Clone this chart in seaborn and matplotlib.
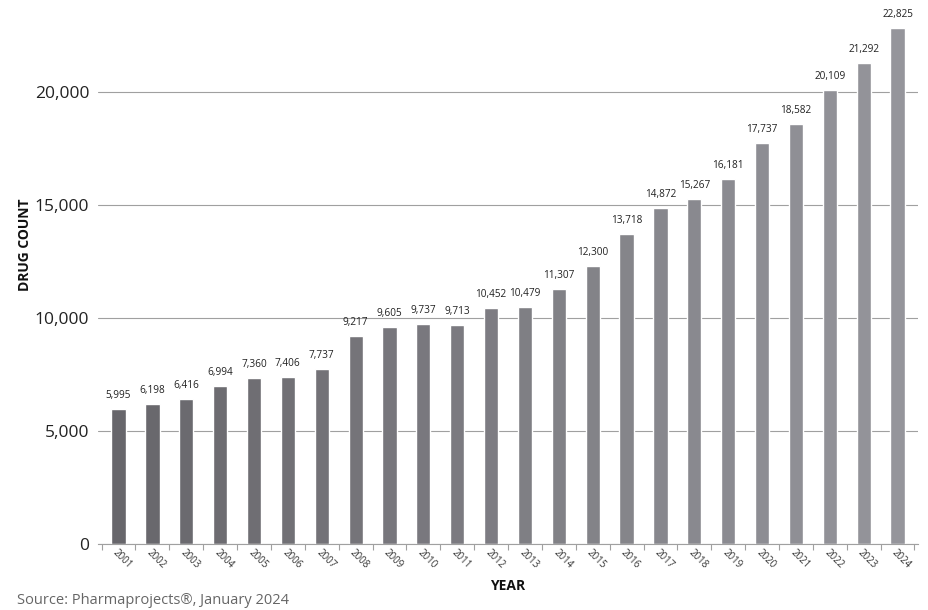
import matplotlib
matplotlib.use("Agg")
import matplotlib.pyplot as plt
import seaborn as sns
import numpy as np
import pandas as pd
from matplotlib.colors import LinearSegmentedColormap, to_hex

years = [str(y) for y in range(2001, 2025)]
counts = [5995, 6198, 6416, 6994, 7360, 7406, 7737, 9217, 9605, 9737, 9713,
          10452, 10479, 11307, 12300, 13718, 14872, 15267, 16181, 17737,
          18582, 20109, 21292, 22825]
yticks = [0, 5000, 10000, 15000, 20000]

sns.set_theme(style="white")
plt.rcParams['font.family'] = ['Open Sans', 'DejaVu Sans']

df = pd.DataFrame({"year": years, "count": counts})
cmap = LinearSegmentedColormap.from_list("g", ["#67666b", "#95959b"])
palette = [to_hex(cmap(i / (len(years) - 1))) for i in range(len(years))]

fig = plt.figure(figsize=(9.29, 6.10), dpi=100)
ax = fig.add_axes([0.105, 0.108, 0.883, 0.889])
ax.set_axisbelow(True)
sns.barplot(data=df, x="year", y="count", hue="year", palette=palette,
            legend=False, width=0.42, ax=ax, saturation=1)

ax.set_xlim(-0.62, 23.6)
ax.set_ylim(0, 24000)
ax.set_yticks(yticks)
ax.set_yticklabels([f"{v:,}" for v in yticks], fontsize=12.5, color="#222222")
ax.yaxis.grid(True, color="#a0a0a0", linewidth=0.8)
ax.tick_params(axis="y", length=0, pad=6)
for s in ["top", "right", "left"]:
    ax.spines[s].set_visible(False)
ax.spines["bottom"].set_color("#a0a0a0")
ax.spines["bottom"].set_linewidth(0.8)

ax.set_xticks(range(len(years)))
ax.set_xticklabels(years, rotation=-45, ha="left", rotation_mode="anchor",
                   fontsize=7, color="#333333")
ax.tick_params(axis="x", which="major", length=0, pad=2)
ax.set_xticks(np.arange(-0.5, len(years), 1.0), minor=True)
ax.tick_params(axis="x", which="minor", length=4, color="#a0a0a0", width=0.8,
               direction="out", bottom=True)

for i, v in enumerate(counts):
    ax.text(i, v + 350, f"{v:,}", ha="center", va="bottom", fontsize=7.2,
            color="#222222")

ax.set_ylabel("DRUG COUNT", fontsize=10, fontweight="bold", color="#111111")
ax.yaxis.set_label_coords(-0.080, 0.552)
ax.set_xlabel("YEAR", fontsize=10, fontweight="bold", color="#111111")
ax.xaxis.set_label_coords(0.5, -0.064)

fig.text(0.018, 0.004, "Source: Pharmaprojects®, January 2024", fontsize=10.5,
         color="#666666", ha="left", va="bottom")

fig.savefig("out.png", dpi=100)
